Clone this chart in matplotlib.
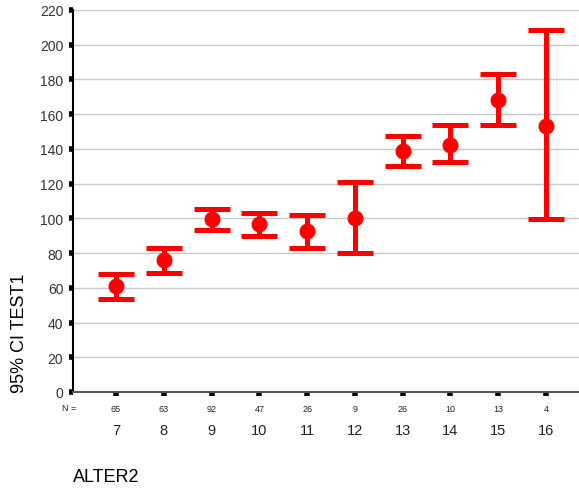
import matplotlib.pyplot as plt
import numpy as np

plt.rcParams['font.family'] = ['Liberation Sans', 'DejaVu Sans']

# Data
groups = [7, 8, 9, 10, 11, 12, 13, 14, 15, 16]
counts = [65, 63, 92, 47, 26, 9, 26, 10, 13, 4]
means = [61.1, 75.9, 99.8, 97.0, 92.5, 100.4, 138.7, 142.5, 168.0, 153.0]
upper = [68.2, 82.8, 105.2, 103.3, 101.9, 120.9, 147.3, 153.6, 182.9, 208.2]
lower = [53.8, 68.4, 93.1, 90.0, 82.9, 80.1, 129.9, 132.2, 153.6, 99.4]

means = np.array(means)
err = [means - np.array(lower), np.array(upper) - means]

fig = plt.figure(figsize=(5.79, 4.89), dpi=100)
ax = fig.add_axes([73 / 579, 1 - 393 / 489, 1 - 73 / 579, 382 / 489])

ax.errorbar(groups, means, yerr=err, fmt='o', color='#ff0000', ecolor='#ff0000',
            elinewidth=3.6, capsize=13, capthick=3.6, markersize=10.5, zorder=3)

ax.set_xlim(6.1, 16.69)
ax.set_ylim(0, 220)
ax.set_yticks(np.arange(0, 221, 20))
ax.set_xticks(groups)
ax.set_xticklabels([str(g) for g in groups], fontsize=10.5)
ax.tick_params(axis='y', length=3, width=4, direction='out', labelsize=10,
               colors='black', labelcolor='#333333', pad=4)
ax.tick_params(axis='x', length=3, width=4, direction='out', pad=19,
               colors='black', labelcolor='#222222')

ax.grid(axis='y', color='#c8c8c8', linewidth=1)
ax.set_axisbelow(True)
for side in ['top', 'right']:
    ax.spines[side].set_visible(False)
ax.spines['left'].set_color('black')
ax.spines['left'].set_linewidth(1.5)
ax.spines['bottom'].set_color('#555555')
ax.spines['bottom'].set_linewidth(1.5)

# N counts row
trans = ax.get_xaxis_transform()
for g, n in zip(groups, counts):
    ax.text(g, -16 / 382, str(n), transform=trans, ha='center', va='center',
            fontsize=6.5, color='#222222')
ax.text(69 / 579, 1 - 409 / 489, 'N =', transform=fig.transFigure, ha='center',
        va='center', fontsize=6.5, color='#222222')

fig.text(20 / 579, 1 - 393 / 489, '95% CI TEST1', rotation=90, ha='center',
         va='bottom', fontsize=13)
fig.text(73 / 579, 1 - 478 / 489, 'ALTER2', ha='left', va='center', fontsize=13)

fig.savefig('out.png', dpi=100)
